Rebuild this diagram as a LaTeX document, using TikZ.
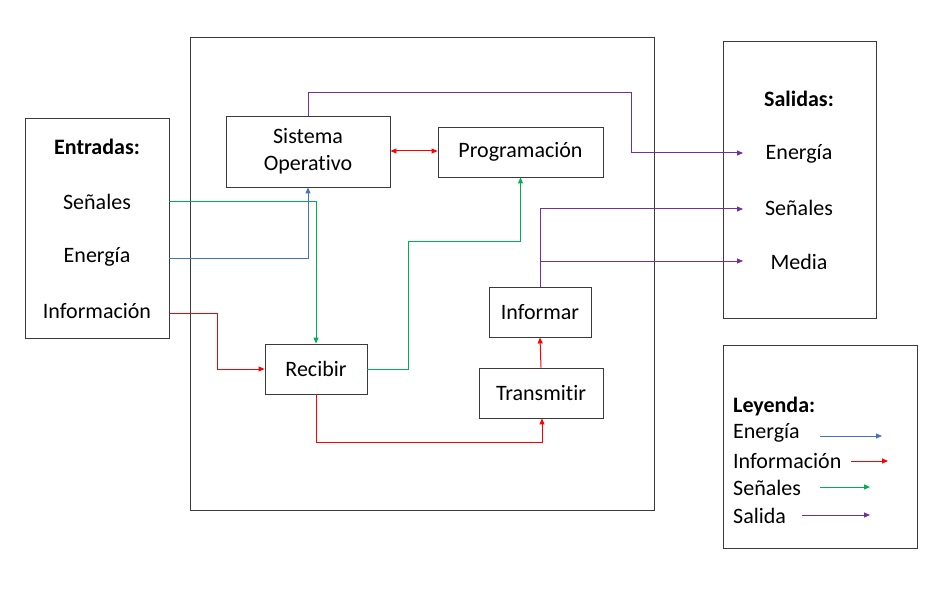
\documentclass[tikz,border=0pt]{standalone}
\usepackage{fontspec}
\setmainfont{Carlito}[Ligatures=NoCommon]
\usetikzlibrary{arrows.meta}
\definecolor{cblue}{HTML}{4472C4}
\definecolor{cred}{HTML}{FF0000}
\definecolor{cgreen}{HTML}{00B050}
\definecolor{cpurple}{HTML}{7030A0}
\definecolor{cframe}{HTML}{3A3A3A}
\tikzset{
  box/.style={draw=cframe, line width=0.9pt, rectangle, inner sep=0pt, align=center},
  lbl/.style={inner sep=0pt, align=center},
  conn/.style={line width=1pt, -{Triangle[length=6pt,width=5pt]}},
  every node/.style={font=\fontsize{22}{27}\selectfont},
  bold/.style={font=\fontsize{22}{27}\selectfont\bfseries},
}
\begin{document}
\begin{tikzpicture}[x=1pt,y=-1pt]
\useasboundingbox (0,0) rectangle (938,591);
% frames
\node[box, minimum width=144, minimum height=220] (ent) at (97,228) {};
\node[box, minimum width=464, minimum height=473] (main) at (422,273.5) {};
\node[box, minimum width=153, minimum height=277] (sal) at (799.5,179.5) {};
\node[box, minimum width=194, minimum height=203] (ley) at (820,446.5) {};
% inner boxes
\node[box, minimum width=164, minimum height=71] (so) at (308,151.5) {Sistema\\Operativo};
\node[box, minimum width=165, minimum height=50] (prog) at (520.5,152) {Programación};
\node[box, minimum width=102, minimum height=50] (rec) at (316,369) {Recibir};
\node[box, minimum width=102, minimum height=50] (inf) at (540,312) {Informar};
\node[box, minimum width=124, minimum height=50] (tra) at (541,393) {Transmitir};
% entradas labels
\node[lbl, bold] (entT) at (97,147) {Entradas:};
\node[lbl] (eS) at (97,202) {Señales};
\node[lbl] (eE) at (97,257) {Energía};
\node[lbl] (eI) at (97,311) {Información};
% salidas labels
\node[lbl, bold] (salT) at (799,99) {Salidas:};
\node[lbl] (sE) at (799,154) {Energía};
\node[lbl] (sS) at (799,208) {Señales};
\node[lbl] (sM) at (799,262) {Media};
% legend labels
\node[lbl, anchor=west, bold] (leyT) at (733,407) {Leyenda:};
\node[lbl, anchor=west] (lE) at (733,433) {Energía};
\node[lbl, anchor=west] (lI) at (733,461) {Información};
\node[lbl, anchor=west] (lS) at (733,488) {Señales};
\node[lbl, anchor=west] (lO) at (733,516) {Salida};
% coordinates
\coordinate (inS) at (169,202);
\coordinate (inE) at (169,258);
\coordinate (inI) at (169,313);
\coordinate (outE) at (743,153);
\coordinate (outS) at (743,209);
\coordinate (outM) at (743,261);
% connectors
\draw[conn, cpurple] (so.north) |- (631,93) |- (outE);
\draw[line width=1pt, cred, {Triangle[length=6pt,width=5pt]}-{Triangle[length=6pt,width=5pt]}] (so.east |- 0,151) -- (prog.west |- 0,151);
\draw[conn, cgreen] (inS) -| (rec.north);
\draw[conn, cblue] (inE) -| (so.south);
\draw[conn, cred] (inI) -- (217,313) -- (217,369) -- (rec.west);
\draw[conn, cgreen] (rec.east) -| (408,242) -| (prog.south);
\draw[conn, cred] (rec.south) |- (542,442) -- (tra.south -| 542,0);
\draw[conn, cred] (tra.north) -- (inf.south);
\draw[conn, cpurple] (inf.north) |- (outS);
\draw[conn, cpurple] (inf.north |- outM) -- (outM);
% legend arrows
\coordinate (a1) at (820,436); \coordinate (b1) at (882,436);
\coordinate (a2) at (851,461); \coordinate (b2) at (888,461);
\coordinate (a3) at (820,487); \coordinate (b3) at (870,487);
\coordinate (a4) at (802,515); \coordinate (b4) at (870,515);
\draw[conn, cblue] (a1) -- (b1);
\draw[conn, cred] (a2) -- (b2);
\draw[conn, cgreen] (a3) -- (b3);
\draw[conn, cpurple] (a4) -- (b4);
\end{tikzpicture}
\end{document}
